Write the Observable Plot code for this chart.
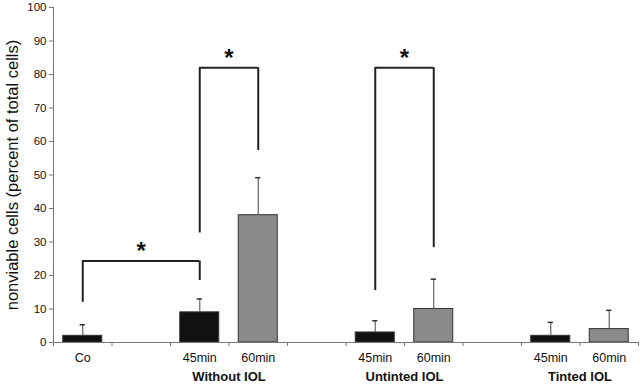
<!DOCTYPE html>
<html>
<head>
<meta charset="utf-8">
<script src="https://cdn.jsdelivr.net/npm/d3@7"></script>
<script src="https://cdn.jsdelivr.net/npm/@observablehq/plot@0.6"></script>
<style>
  html, body { margin: 0; padding: 0; background: #fff; }
  #chart svg { display: block; }
</style>
</head>
<body>
<div id="chart"></div>
<script>
// Category slots along the x axis (empty strings are the gaps between groups)
const categories = ["Co", "", "45min", "60min", "", "45min", "60min", "", "45min", "60min"];
// Mean nonviable cells (%) per slot (null = empty slot)
const values = [2, null, 9, 38, null, 3, 10, null, 2, 4];
// Standard deviations (upper error bar only)
const errors = [3.3, null, 4, 11.2, null, 3.5, 8.9, null, 4, 5.6];
// Series of each slot: control, 45 min, 60 min
const series = ["control", null, "45min", "60min", null, "45min", "60min", null, "45min", "60min"];
// Group labels and the slots they span
const groupNames = ["Without IOL", "Untinted IOL", "Tinted IOL"];
const groupSlots = [[2, 3], [5, 6], [8, 9]];
// Significance brackets: slot indices, bracket height, leg bottoms (in % units)
const bracketFrom = [0, 2, 5];
const bracketTo = [2, 3, 6];
const bracketTop = [24.3, 82, 82];
const bracketLeftEnd = [12, 32.7, 15.5];
const bracketRightEnd = [18.5, 57.3, 28.3];
const yTicks = [0, 10, 20, 30, 40, 50, 60, 70, 80, 90, 100];
const yLabel = "nonviable cells (percent of total cells)";

const bars = categories.map((c, i) => ({i, label: c, value: values[i], err: errors[i], series: series[i]}))
  .filter(d => d.value != null);
const brackets = bracketFrom.map((f, k) => ({
  a: f + 0.5, b: bracketTo[k] + 0.5, top: bracketTop[k],
  la: bracketLeftEnd[k], ra: bracketRightEnd[k]
}));
const groups = groupNames.map((g, k) => ({name: g, x: (groupSlots[k][0] + groupSlots[k][1]) / 2 + 0.5}));

const colorOf = s => s === "60min" ? "#8a8a8a" : "#111111";
const capW = 0.045;

const chart = Plot.plot({
  width: 640,
  height: 387,
  marginLeft: 53,
  marginRight: 2,
  marginTop: 7,
  marginBottom: 45,
  style: {fontFamily: "'Liberation Sans', Arial, sans-serif", background: "#fff"},
  x: {domain: [0, categories.length]},
  y: {domain: [0, 100]},
  marks: [
    // axes
    Plot.axisY({ticks: yTicks, tickSize: 4, tickPadding: 3, fontSize: 11.5, color: "#111", stroke: "#777", label: null}),
    Plot.text([yLabel], {frameAnchor: "left", textAnchor: "middle", rotate: -90, dx: -41, fontSize: 16.5, fill: "#111", text: d => d}),
    Plot.axisX({ticks: d3.range(0, categories.length + 1), tickFormat: () => "", tickSize: 4, stroke: "#777", label: null}),
    Plot.ruleX([0], {y1: 0, y2: 100, stroke: "#777"}),
    // bars
    Plot.rectY(bars, {
      x1: d => d.i + 1 / 6, x2: d => d.i + 5 / 6, y1: 0, y2: "value",
      fill: d => colorOf(d.series), stroke: "#333", strokeWidth: 1
    }),
    Plot.ruleY([0], {stroke: "#777"}),
    // error bars
    Plot.ruleX(bars, {x: d => d.i + 0.5, y1: "value", y2: d => d.value + d.err, stroke: "#666", strokeWidth: 1.2}),
    Plot.ruleY(bars, {y: d => d.value + d.err, x1: d => d.i + 0.5 - capW, x2: d => d.i + 0.5 + capW, stroke: "#333", strokeWidth: 1.5}),
    // significance brackets
    Plot.ruleY(brackets, {y: "top", x1: "a", x2: "b", stroke: "#222", strokeWidth: 2}),
    Plot.ruleX(brackets, {x: "a", y1: "la", y2: "top", stroke: "#222", strokeWidth: 2}),
    Plot.ruleX(brackets, {x: "b", y1: "ra", y2: "top", stroke: "#222", strokeWidth: 2}),
    Plot.text(brackets, {x: d => (d.a + d.b) / 2, y: "top", text: () => "*", fontSize: 24, fontWeight: "bold", fill: "#111", dy: -2, lineAnchor: "bottom"}),
    // category labels
    Plot.text(bars, {x: d => d.i + 0.5, y: 0, text: "label", dy: 15, fontSize: 12.5, fill: "#111"}),
    // group labels
    Plot.text(groups, {x: "x", y: 0, text: "name", dy: 34, fontSize: 13, fontWeight: "bold", fill: "#111"})
  ]
});
document.getElementById("chart").appendChild(chart);
</script>
</body>
</html>
